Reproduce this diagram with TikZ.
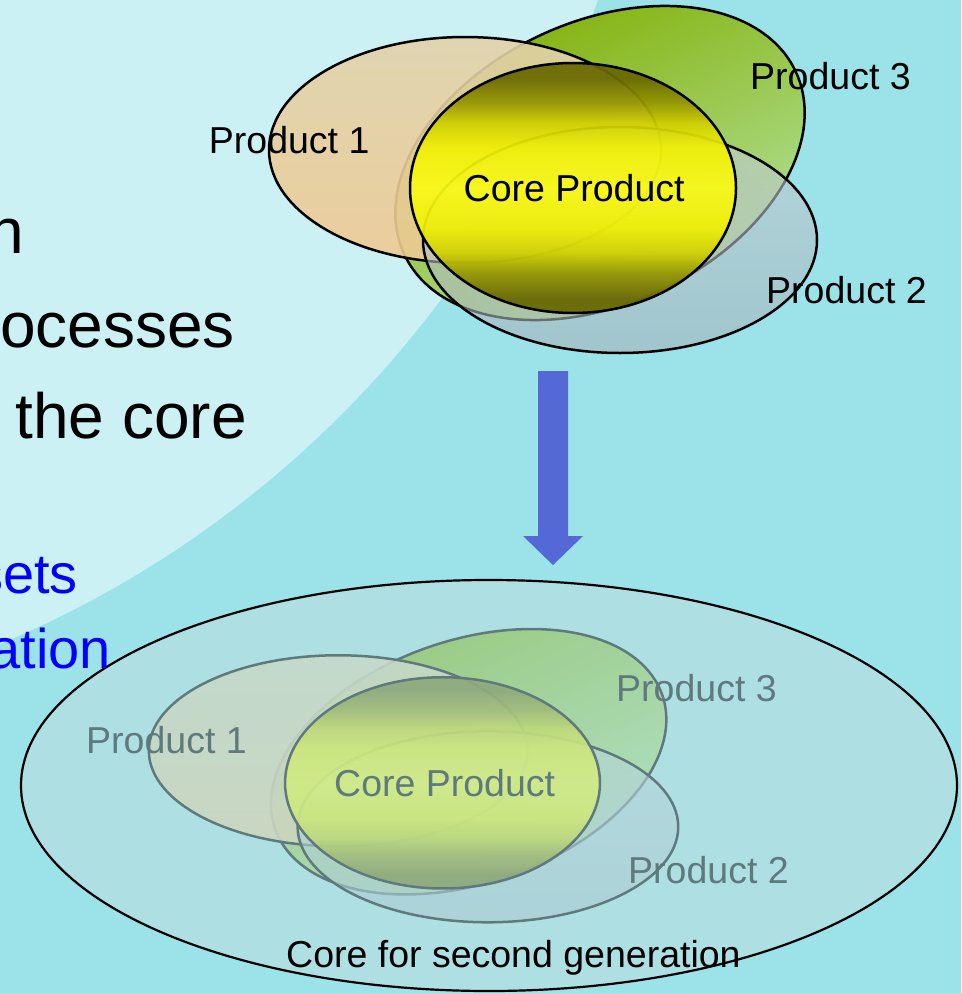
\documentclass[tikz,border=0pt]{standalone}
\usepackage{fontspec}
\setmainfont{Liberation Sans}
\definecolor{bgdark}{RGB}{155,227,232}
\definecolor{bglight}{RGB}{204,241,245}
\definecolor{pOneTop}{RGB}{226,210,170}
\definecolor{pOneMid}{RGB}{255,216,152}
\definecolor{pOneBot}{RGB}{240,202,146}
\definecolor{pThreeTop}{RGB}{128,174,0}
\definecolor{pThreeMid}{RGB}{150,216,134}
\definecolor{pThreeBot}{RGB}{182,230,170}
\definecolor{pTwoTop}{RGB}{196,206,212}
\definecolor{pTwoBot}{RGB}{166,178,188}
\definecolor{coreDark}{RGB}{104,104,0}
\definecolor{coreMidA}{RGB}{150,150,0}
\definecolor{coreMidB}{RGB}{208,208,0}
\definecolor{coreBright}{RGB}{240,240,4}
\definecolor{coreTop}{RGB}{250,250,22}
\definecolor{arrowblue}{RGB}{84,104,214}
\definecolor{textblue}{RGB}{0,0,255}
\definecolor{bigfill}{RGB}{174,223,227}
\pgfdeclareverticalshading{coreshade}{100bp}{color(0bp)=(coreDark); color(25bp)=(coreDark); color(28bp)=(coreDark); color(33bp)=(coreMidA); color(37bp)=(coreMidB); color(42bp)=(coreBright); color(50bp)=(coreTop); color(58bp)=(coreBright); color(63bp)=(coreMidB); color(67bp)=(coreMidA); color(72bp)=(coreDark); color(75bp)=(coreDark); color(100bp)=(coreDark)}
\tikzset{
  outl/.style={draw=black, line width=2.5pt},
  pthree/.style={outl, top color=pThreeTop, middle color=pThreeMid, bottom color=pThreeBot, shading angle=25},
  pone/.style={outl, top color=pOneTop, middle color=pOneMid, bottom color=pOneBot, fill opacity=0.9},
  ptwo/.style={outl, top color=pTwoTop, bottom color=pTwoBot, fill opacity=0.6},
  pcore/.style={outl, shade, shading=coreshade, fill opacity=0.93},
  lbl/.style={font=\fontsize{37.5}{45}\selectfont, inner sep=0pt, anchor=base west},
  bigtxt/.style={font=\fontsize{64}{77}\selectfont, inner sep=0pt, anchor=base east},
  bluetxt/.style={font=\fontsize{56}{67}\selectfont, text=textblue, inner sep=0pt, anchor=base east},
}
\newcommand\vennshapes{%
  \path[pthree, rotate around={25:(600,-163)}] (600,-163) ellipse (216 and 141);
  \path[pone] (465,-150) ellipse (196 and 113);
  \path[ptwo] (620,-240) ellipse (197 and 113);
  \path[pcore] (573,-188) ellipse (163 and 125);
}
\begin{document}
\begin{tikzpicture}[x=1pt,y=1pt]
\useasboundingbox (0,0) rectangle (961,-993);
\begin{scope}
\clip (0,0) rectangle (961,-993);
\fill[bgdark] (0,0) rectangle (961,-993);
\fill[bglight] (-410,336) circle (1062);
% bottom big ellipse
\draw[fill=bigfill, line width=2.2pt] (489,-785.5) ellipse (468 and 205.5);
% slide text fragments
\node[bigtxt] (t1) at (24.5,-253) {n};
\node[bigtxt] (t2) at (235,-347) {ocesses};
\node[bigtxt] (t3) at (247,-438) {the core};
\node[bluetxt] (t4) at (78,-593) {sets};
\node[bluetxt] (t5) at (111,-668) {ation};
% faded copy
\begin{scope}[transparency group, opacity=0.45]
  \begin{scope}[shift={(-111,-624)}, xscale=0.966, yscale=0.845]
    \vennshapes
  \end{scope}
  \node[lbl] (b1) at (86,-753) {Product 1};
  \node[lbl] (b3) at (616,-701.7) {Product 3};
  \node[lbl] (bc) at (334,-796.7) {Core Product};
  \node[lbl] (b2) at (628,-883) {Product 2};
\end{scope}
\node[lbl] (gen) at (286,-967) {Core for second generation};
% top group
\vennshapes
\node[lbl] (p1) at (208.7,-153.3) {Product 1};
\node[lbl] (p3) at (750,-89.3) {Product 3};
\node[lbl] (cp) at (463.5,-201.7) {Core Product};
\node[lbl] (p2) at (766,-303.3) {Product 2};
% arrow
\fill[arrowblue] (538,-371) -- (568,-371) -- (568,-536) -- (583,-536) -- (553,-565) -- (523,-536) -- (538,-536) -- cycle;
\end{scope}
\end{tikzpicture}
\end{document}
